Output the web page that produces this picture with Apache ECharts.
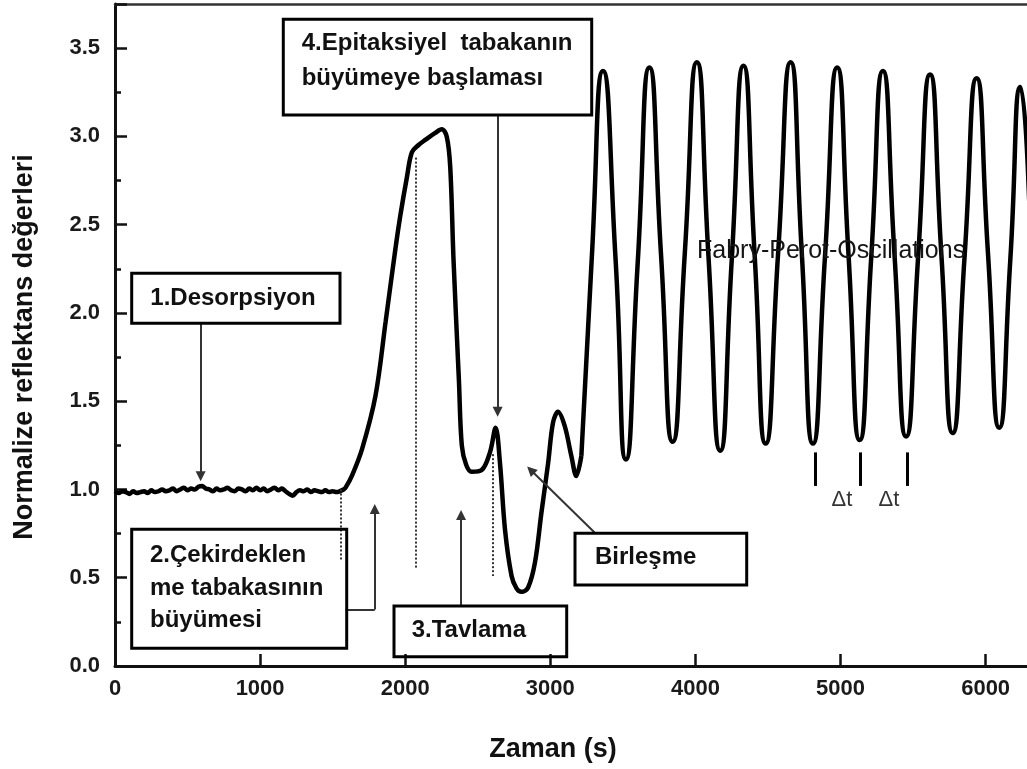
<!DOCTYPE html>
<html>
<head>
<meta charset="utf-8">
<script src="https://cdn.jsdelivr.net/npm/echarts@6/dist/echarts.min.js"></script>
<style>
  html, body { margin: 0; padding: 0; background: #fff; overflow: hidden; }
  #chart { width: 1031px; height: 769px; }
</style>
</head>
<body>
<div id="chart"></div>
<script>
// zaman (s), normalize reflektans
const desorption = [
  [0, 0.99], [25, 0.98], [50, 0.99], [75, 0.985], [100, 0.975], [125, 0.99], [150, 0.98],
  [175, 0.985], [200, 0.99], [225, 0.98], [250, 0.995], [275, 0.985], [300, 0.99], [325, 1.0],
  [350, 0.99], [375, 0.995], [400, 1.005], [425, 0.99], [450, 1.0], [475, 1.01], [500, 0.995],
  [525, 1.005], [550, 1.0], [575, 1.015], [600, 1.02], [625, 1.005], [650, 1.0], [675, 0.99],
  [700, 1.005], [725, 0.995], [750, 1.0], [775, 1.01], [800, 0.995], [825, 0.99], [850, 1.005],
  [875, 1.0], [900, 0.99], [925, 1.005], [950, 0.995], [975, 1.01], [1000, 0.995], [1025, 1.005],
  [1050, 0.99], [1075, 1.0], [1100, 1.01], [1125, 0.995], [1150, 1.005], [1175, 0.99], [1200, 0.975],
  [1225, 0.965], [1250, 0.985], [1275, 0.995], [1300, 0.99], [1325, 1.0], [1350, 0.985], [1375, 0.995],
  [1400, 0.99], [1425, 0.985], [1450, 0.995], [1475, 0.985], [1500, 0.99], [1525, 0.985], [1550, 0.99],
  [1575, 1.0]
]
const growth = [
  [1589, 1.01], [1634, 1.08], [1703, 1.23], [1795, 1.53], [1865, 1.95], [1932, 2.36], [1966, 2.55],
  [2012, 2.77], [2046, 2.91], [2090, 2.95], [2138, 2.98], [2207, 3.02], [2252, 3.04], [2286, 3.0],
  [2310, 2.83], [2333, 2.3], [2370, 1.62], [2390, 1.25], [2420, 1.14], [2458, 1.1], [2527, 1.11],
  [2584, 1.21], [2623, 1.35], [2653, 1.15], [2688, 0.77], [2733, 0.51], [2767, 0.44], [2801, 0.42],
  [2847, 0.445], [2894, 0.585], [2939, 0.87], [2985, 1.15], [3019, 1.38], [3053, 1.44], [3099, 1.36],
  [3145, 1.19], [3179, 1.076], [3214, 1.19]
]
const oscillation = [
  [3214, 1.19], [3285, 2.3], [3363, 3.37], [3450, 2.3], [3521, 1.17], [3602, 2.28], [3683, 3.39],
  [3763, 2.33], [3843, 1.27], [3927, 2.34], [4010, 3.42], [4090, 2.32], [4171, 1.22], [4251, 2.31],
  [4331, 3.4], [4408, 2.33], [4484, 1.26], [4570, 2.34], [4656, 3.42], [4733, 2.34], [4810, 1.26],
  [4893, 2.32], [4977, 3.39], [5055, 2.33], [5132, 1.28], [5212, 2.32], [5292, 3.37], [5372, 2.33],
  [5452, 1.3], [5535, 2.32], [5617, 3.35], [5695, 2.33], [5773, 1.32], [5855, 2.32], [5938, 3.33],
  [6016, 2.34], [6094, 1.35], [6170, 2.3], [6240, 3.28], [6310, 2.4]
]

const FONT = "'Liberation Sans', Arial, sans-serif"
const INK = '#111'
// the plot runs a little past the right edge of the window, as in the source figure
const X_MAX = 6292

const myChart = echarts.init(document.getElementById('chart'))

function arrow(from, to) {
  return [{ coord: from }, { coord: to }]
}
function plain(from, to, style) {
  return [{ coord: from, symbol: 'none', lineStyle: style }, { coord: to, symbol: 'none' }]
}
const thin = { type: 'solid', width: 2, color: '#333' }
const dotted = { type: 'dotted', width: 2, color: '#333' }
const mark = { type: 'solid', width: 3, color: '#000' }

function box(x, y, w, h) {
  return {
    type: 'rect', z: 10, silent: true,
    shape: { x: x, y: y, width: w, height: h },
    style: { fill: 'transparent', stroke: '#000', lineWidth: 3 }
  }
}
function label(text, x, y, font, extra) {
  return {
    type: 'text', z: 11, silent: true, x: x, y: y,
    style: Object.assign({
      text: text, fill: INK, font: font || ('bold 24px ' + FONT),
      textAlign: 'left', textVerticalAlign: 'middle'
    }, extra || {})
  }
}

const option = {
  animation: false,
  grid: { left: 115, top: 4, right: 0, bottom: 103 },
  xAxis: [
    {
      type: 'value', min: 0, max: X_MAX, interval: 1000, position: 'bottom',
      axisLine: { onZero: false, lineStyle: { color: INK, width: 3 } },
      axisTick: { inside: true, length: 12, lineStyle: { color: INK, width: 2.5 } },
      axisLabel: {
        margin: 12, fontSize: 22, fontWeight: 'bold', color: '#1a1a1a', fontFamily: FONT,
        formatter: v => (v % 1000 === 0 ? String(v) : '')
      },
      splitLine: { show: false }
    },
    {
      type: 'value', min: 0, max: X_MAX, position: 'top',
      axisLine: { onZero: false, lineStyle: { color: '#333', width: 2.5 } },
      axisTick: { show: false }, axisLabel: { show: false }, splitLine: { show: false }
    }
  ],
  yAxis: [
    {
      type: 'value', min: 0, max: 3.75, interval: 0.5, position: 'left',
      axisLine: { show: true, onZero: false, lineStyle: { color: INK, width: 3 } },
      axisTick: { inside: true, length: 12, lineStyle: { color: INK, width: 2.5 } },
      axisLabel: {
        margin: 15, fontSize: 22, fontWeight: 'bold', color: '#1a1a1a', fontFamily: FONT,
        formatter: v => (Math.round(v * 100) % 50 === 0 ? v.toFixed(1) : '')
      },
      splitLine: { show: false }
    },
    {
      type: 'value', min: 0, max: 3.75, interval: 0.25, position: 'left',
      axisLine: { show: false, onZero: false },
      axisTick: { inside: true, length: 6, lineStyle: { color: INK, width: 2.5 } },
      axisLabel: { show: false }, splitLine: { show: false }
    }
  ],
  series: [
    {
      type: 'line',
      data: desorption.concat(growth),
      showSymbol: false,
      smooth: 0.35,
      clip: true,
      lineStyle: { color: '#000', width: 4.5 },
      markLine: {
        silent: true,
        animation: false,
        symbol: ['none', 'triangle'],
        symbolSize: 10,
        label: { show: false },
        lineStyle: thin,
        data: [
          arrow([590, 1.945], [590, 1.075]),
          plain([1589, 0.32], [1790, 0.32], thin),
          arrow([1790, 0.32], [1790, 0.89]),
          arrow([2385, 0.344], [2385, 0.855]),
          arrow([2637, 3.124], [2637, 1.44]),
          arrow([3305, 0.756], [2865, 1.11]),
          plain([1558, 1.0], [1558, 0.6], dotted),
          plain([2073, 2.88], [2073, 0.55], dotted),
          plain([2600, 1.2], [2600, 0.51], dotted),
          plain([4828, 1.21], [4828, 1.02], mark),
          plain([5137, 1.21], [5137, 1.02], mark),
          plain([5462, 1.21], [5462, 1.02], mark)
        ]
      }
    },
    {
      type: 'line',
      data: oscillation,
      showSymbol: false,
      smooth: 0.6,
      clip: true,
      lineStyle: { color: '#000', width: 4.5 }
    }
  ],
  graphic: [
    box(131.7, 273.3, 208.3, 50),
    label('1.Desorpsiyon', 233, 298, null, { textAlign: 'center' }),
    box(131.7, 529.3, 215, 119),
    label('2.Çekirdeklen\nme tabakasının\nbüyümesi', 150, 588, null, { lineHeight: 32.5 }),
    box(394, 606, 172.7, 50.7),
    label('3.Tavlama', 411.7, 630),
    box(575, 533.3, 171.7, 51.7),
    label('Birleşme', 595, 557),
    box(283.3, 19.3, 308.4, 95.7),
    label('4.Epitaksiyel  tabakanın\nbüyümeye başlaması', 301.7, 61, null, { lineHeight: 35 }),
    label('Fabry-Perot-Oscillations', 697, 251, '25px ' + FONT, { fill: '#151515' }),
    label('Δt', 842, 500, '22px ' + FONT, { fill: '#333', textAlign: 'center' }),
    label('Δt', 889, 500, '22px ' + FONT, { fill: '#333', textAlign: 'center' }),
    label('Zaman (s)', 553, 750, 'bold 27px ' + FONT, { textAlign: 'center' }),
    Object.assign(label('Normalize reflektans değerleri', 0, 0, 'bold 27px ' + FONT, { textAlign: 'center' }),
      { x: 25, y: 347, rotation: Math.PI / 2 })
  ]
}

myChart.setOption(option)
</script>
</body>
</html>
